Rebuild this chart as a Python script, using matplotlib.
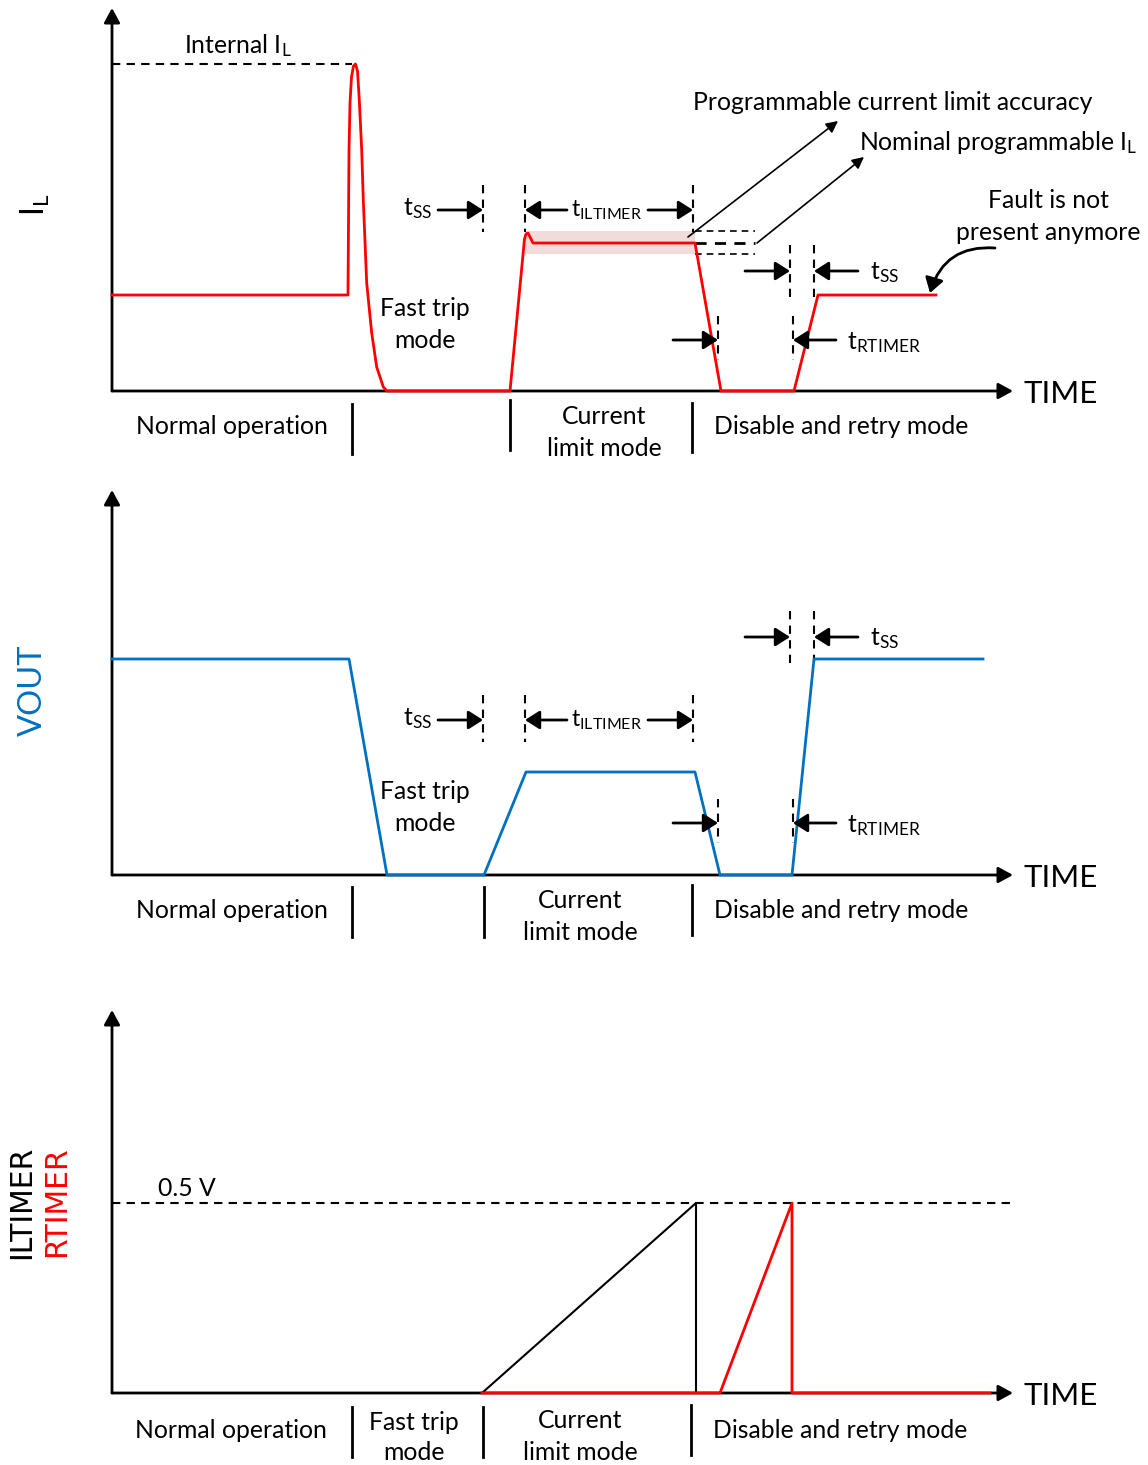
import matplotlib
matplotlib.use("Agg")
import matplotlib.pyplot as plt

# figure size in pixels (dpi 100)
W, H = 1148, 1465

RED = "#ff0000"
BLUE = "#0070c0"
PINK = "#f2dcdb"

# --- I_L waveform (time, level above baseline) ---
il_t = [112, 348, 349, 350, 351.5, 353.5, 355.5, 357.5, 359.3, 361.7, 363.3, 366.7,
        371.7, 376.7, 383.3, 387, 510, 524.5, 526, 528, 530, 533, 695, 721,
        794, 818, 936]
il_v = [96, 96, 240, 288, 314, 325, 327, 320, 291, 241, 191, 108,
        58, 24, 4, 0, 0, 152, 157, 158, 154, 148, 148, 0,
        0, 96, 96]
il_internal = 327          # internal current limit level
il_band = (137, 160)       # programmable current limit accuracy band
il_nominal = 148

# --- VOUT waveform ---
vo_t = [112, 349, 387, 484, 526, 695, 720, 792, 814, 983]
vo_v = [216, 216, 0, 0, 103, 103, 0, 0, 216, 216]

# --- ILTIMER / RTIMER ---
ilt_t = [482, 696, 696]
ilt_v = [0, 190, 0]
rt_t = [482, 720, 792, 792, 990]
rt_v = [0, 0, 190, 0, 0]
threshold = 190

plt.rcParams["font.family"] = ["Lato", "DejaVu Sans"]
plt.rcParams["mathtext.fontset"] = "custom"
plt.rcParams["mathtext.rm"] = "Lato"
plt.rcParams["mathtext.it"] = "Lato:italic"
plt.rcParams["mathtext.bf"] = "Lato:bold"

FS = 17.8
DASH = (0, (4, 3))

fig = plt.figure(figsize=(W / 100, H / 100), dpi=100)


def panel(top, bottom, base):
    ax = fig.add_axes([0, 1 - bottom / H, 1, (bottom - top) / H])
    ax.set_xlim(0, W)
    ax.set_ylim(base - bottom, base - top)
    ax.axis("off")
    return ax


def axes_arrows(ax, ytop, xend=1013):
    ap = dict(arrowstyle="-|>,head_length=0.55,head_width=0.3", color="k",
              lw=2, shrinkA=0, shrinkB=0, mutation_scale=16)
    ax.annotate("", xy=(112, ytop), xytext=(112, 0), arrowprops=ap)
    ax.annotate("", xy=(xend, 0), xytext=(112, 0), arrowprops=ap)
    ax.text(1024, -3, "TIME", fontsize=22.5, va="center", ha="left")


def vdash(ax, x, y0, y1):
    ax.plot([x, x], [y0, y1], color="k", lw=1.5, ls=DASH)


def harrow(ax, x0, x1, y):
    ax.annotate("", xy=(x1, y), xytext=(x0, y),
                arrowprops=dict(arrowstyle="-|>,head_length=0.55,head_width=0.35",
                                color="k", lw=2, shrinkA=0, shrinkB=0,
                                mutation_scale=16))


def sep(ax, x, y0, y1):
    ax.plot([x, x], [y0, y1], color="k", lw=2)


def markers(ax, tss1, tss2, trt):
    # tSS before current limit
    vdash(ax, 483, tss1 + 25, tss1 - 22)
    harrow(ax, 438, 483, tss1)
    ax.text(432, tss1 + 1, "t$_{\\rm SS}$", fontsize=FS, ha="right", va="center")
    # tILTIMER
    vdash(ax, 525, tss1 + 25, tss1 - 22)
    vdash(ax, 693, tss1 + 25, tss1 - 22)
    harrow(ax, 567, 525, tss1)
    harrow(ax, 648, 693, tss1)
    ax.text(607, tss1, "t$_{\\rm ILTIMER}$", fontsize=16.5, ha="center", va="center")
    # tSS after retry
    vdash(ax, 790, tss2 + 26, tss2 - 26)
    vdash(ax, 814, tss2 + 26, tss2 - 26)
    harrow(ax, 745, 790, tss2)
    harrow(ax, 858, 814, tss2)
    ax.text(870, tss2 - 2, "t$_{\\rm SS}$", fontsize=FS, ha="left", va="center")
    # tRTIMER
    vdash(ax, 718, trt + 24, trt - 20)
    vdash(ax, 793, trt + 24, trt - 20)
    harrow(ax, 673, 718, trt)
    harrow(ax, 836, 793, trt)
    ax.text(847, trt - 3, "t$_{\\rm RTIMER}$", fontsize=FS, ha="left", va="center")


# ---------------- panel 1: I_L ----------------
ax1 = panel(0, 470, 391)
ax1.fill_between([525, 695], il_band[0], il_band[1], color=PINK, lw=0, zorder=0)
ax1.plot([112, 352], [il_internal, il_internal], color="k", lw=1.5, ls=DASH)
ax1.text(238, 345, "Internal I$_{\\rm L}$", fontsize=FS, ha="center", va="center")
for lvl, lw in [(il_band[1], 1.2), (il_nominal, 2), (il_band[0], 1.2)]:
    ax1.plot([695, 755], [lvl, lvl], color="k", lw=lw, ls=DASH)
axes_arrows(ax1, 383)
ax1.plot(il_t, il_v, color=RED, lw=2, zorder=3)
markers(ax1, 181, 120, 51)
ax1.text(425, 83, "Fast trip", fontsize=FS, ha="center", va="center")
ax1.text(425, 51, "mode", fontsize=FS, ha="center", va="center")

thin = dict(arrowstyle="-|>,head_length=0.5,head_width=0.25", color="k", lw=1.2,
            shrinkA=0, shrinkB=0, mutation_scale=14)
ax1.annotate("", xy=(838, 270), xytext=(688, 154), arrowprops=thin)
ax1.annotate("", xy=(864, 234), xytext=(757, 148), arrowprops=thin)
ax1.text(693, 289, "Programmable current limit accuracy", fontsize=FS,
         ha="left", va="center")
ax1.text(859, 248, "Nominal programmable I$_{\\rm L}$", fontsize=FS,
         ha="left", va="center")
ax1.text(1048, 190, "Fault is not", fontsize=FS, ha="center", va="center")
ax1.text(1048, 158, "present anymore", fontsize=FS, ha="center", va="center")
ax1.annotate("", xy=(930, 98), xytext=(995, 143),
             arrowprops=dict(arrowstyle="-|>,head_length=0.55,head_width=0.35",
                             color="k", lw=2, shrinkA=0, shrinkB=0,
                             mutation_scale=16, connectionstyle="arc3,rad=0.4"))
ax1.text(35, 186, "I$_{\\rm L}$", fontsize=23, rotation=90, ha="center", va="center")

sep(ax1, 352, -13, -63)
sep(ax1, 510, -9, -59)
sep(ax1, 692, -12, -61)
ax1.text(232, -36, "Normal operation", fontsize=FS, ha="center", va="center")
ax1.text(604, -25, "Current", fontsize=FS, ha="center", va="center")
ax1.text(604, -57, "limit mode", fontsize=FS, ha="center", va="center")
ax1.text(714, -36, "Disable and retry mode", fontsize=FS, ha="left", va="center")

# ---------------- panel 2: VOUT ----------------
ax2 = panel(470, 965, 875)
axes_arrows(ax2, 385)
ax2.plot(vo_t, vo_v, color=BLUE, lw=2, zorder=3)
markers(ax2, 155, 238, 52)
ax2.text(425, 84, "Fast trip", fontsize=FS, ha="center", va="center")
ax2.text(425, 52, "mode", fontsize=FS, ha="center", va="center")
ax2.text(33, 185, "VOUT", fontsize=23.5, rotation=90, color=BLUE,
         ha="center", va="center")
sep(ax2, 352, -12, -62)
sep(ax2, 484, -12, -62)
sep(ax2, 692, -10, -60)
ax2.text(232, -35, "Normal operation", fontsize=FS, ha="center", va="center")
ax2.text(580, -25, "Current", fontsize=FS, ha="center", va="center")
ax2.text(580, -57, "limit mode", fontsize=FS, ha="center", va="center")
ax2.text(714, -35, "Disable and retry mode", fontsize=FS, ha="left", va="center")

# ---------------- panel 3: ILTIMER / RTIMER ----------------
ax3 = panel(965, 1465, 1393)
ax3.plot([112, 1010], [threshold, threshold], color="k", lw=1.5, ls=DASH)
ax3.text(158, 204, "0.5 V", fontsize=FS, ha="left", va="center")
axes_arrows(ax3, 383)
ax3.plot(ilt_t, ilt_v, color="k", lw=1.5, zorder=3)
ax3.plot(rt_t, rt_v, color=RED, lw=2, zorder=4)
ax3.text(22, 191, "ILTIMER", fontsize=21.5, rotation=90, family="DejaVu Sans",
         ha="center", va="center")
ax3.text(57, 191, "RTIMER", fontsize=21.5, rotation=90, family="DejaVu Sans",
         color=RED, ha="center", va="center")
sep(ax3, 352, -14, -64)
sep(ax3, 483, -14, -64)
sep(ax3, 691, -12, -62)
ax3.text(231, -37, "Normal operation", fontsize=FS, ha="center", va="center")
ax3.text(414, -29, "Fast trip", fontsize=FS, ha="center", va="center")
ax3.text(414, -60, "mode", fontsize=FS, ha="center", va="center")
ax3.text(580, -27, "Current", fontsize=FS, ha="center", va="center")
ax3.text(580, -59, "limit mode", fontsize=FS, ha="center", va="center")
ax3.text(713, -37, "Disable and retry mode", fontsize=FS, ha="left", va="center")

fig.savefig("out.png", dpi=100)
